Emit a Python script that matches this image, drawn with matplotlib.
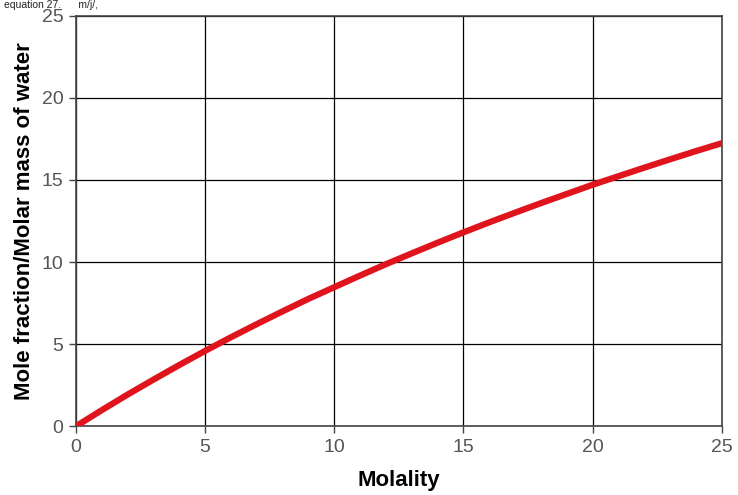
import matplotlib.pyplot as plt

# values
molality = [0, 1, 2, 3, 4, 5, 6, 7, 8, 9, 10, 11, 12, 13, 14, 15, 16, 17, 18, 19, 20, 21, 22, 23, 24, 25]
ratio = [0, 0.98, 1.93, 2.84, 3.73, 4.59, 5.42, 6.22, 7.0, 7.76, 8.47, 9.18, 9.87, 10.53, 11.18,
         11.81, 12.42, 13.01, 13.59, 14.15, 14.71, 15.23, 15.75, 16.26, 16.76, 17.24]
ticks = [0, 5, 10, 15, 20, 25]

plt.rcParams['font.family'] = ['Liberation Sans', 'DejaVu Sans']

fig = plt.figure(figsize=(7.38, 4.95), dpi=100)
ax = fig.add_axes([0.103, 0.139, 0.875, 0.829])

ax.plot(molality, ratio, color='#e0141c', linewidth=4.5, solid_capstyle='round', zorder=3)

ax.set_xlim(0, 25)
ax.set_ylim(0, 25)
ax.set_xticks(ticks)
ax.set_yticks(ticks)
ax.grid(True, color='black', linewidth=0.9)
for s in ax.spines.values():
    s.set_color('#444444')
    s.set_linewidth(1.2)
ax.tick_params(direction='out', length=5, width=1, colors='#444444', labelsize=14, labelcolor='#555555', pad=4)

ax.set_xlabel('Molality', fontsize=16, fontweight='bold', labelpad=10)
ax.set_ylabel('Mole fraction/Molar mass of water', fontsize=16, fontweight='bold', labelpad=5)

# caption at the very top (cut off in the original screenshot)
fig.text(0.005, 1.0, 'equation 27.      m/j/,', fontsize=7.5, color='#222222', va='top')

fig.savefig('out.png', dpi=100)
